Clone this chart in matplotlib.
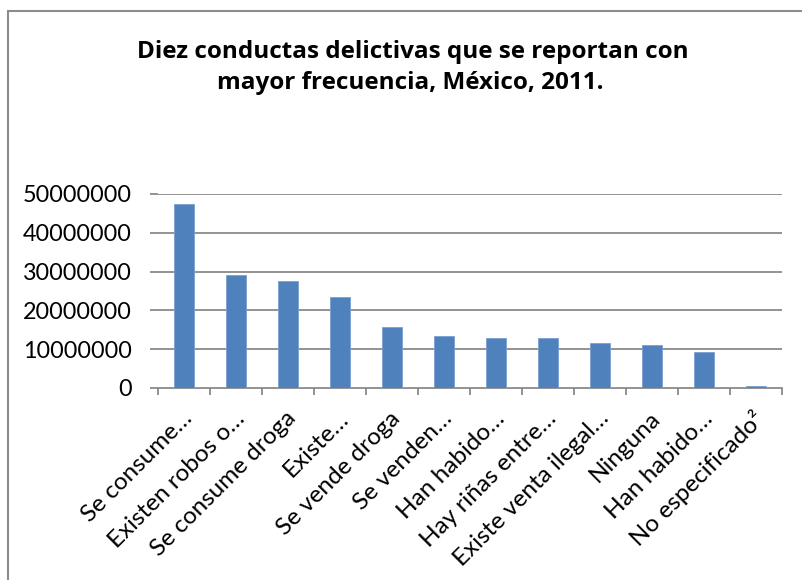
import matplotlib.pyplot as plt
import matplotlib.patches as mpatches
import matplotlib.transforms as mtrans
import numpy as np

# data (approximate)
categorias = ['Se consume…', 'Existen robos o…', 'Se consume droga', 'Existe…',
              'Se vende droga', 'Se venden…', 'Han habido…', 'Hay riñas entre…',
              'Existe venta ilegal…', 'Ninguna', 'Han habido…', 'No especificado²']
valores = [47350000, 29100000, 27500000, 23400000, 15600000, 13500000,
           13000000, 12800000, 11700000, 11000000, 9400000, 600000]
yticks = [0, 10000000, 20000000, 30000000, 40000000, 50000000]
titulo_1 = 'Diez conductas delictivas que se reportan con'
titulo_2 = 'mayor frecuencia, México, 2011.'

plt.rcParams['font.family'] = ['Lato', 'DejaVu Sans']

W, H = 803, 580
fig = plt.figure(figsize=(W / 100, H / 100), dpi=100)

# chart area border (only top and left edges show)
fig.patches.append(mpatches.Rectangle((8 / W, -0.1), 1.2, 1 - 11 / H + 0.1,
                                      transform=fig.transFigure, fill=False,
                                      edgecolor='#8c8c8c', lw=1.5))

ax = fig.add_axes([158 / W, 1 - 388 / H, (782 - 158) / W, (388 - 194) / H])
x = np.arange(len(valores))
ax.bar(x, valores, width=0.4, color='#4F81BD', edgecolor='#7a9fd0', lw=0.6, zorder=3)

ax.set_xlim(-0.5, len(valores) - 0.5)
ax.set_ylim(0, 50000000)
ax.set_yticks(yticks)
ax.set_yticklabels([str(v) for v in yticks], fontsize=16.8)
for v in yticks[1:]:
    ax.axhline(v, color='#8a8a8a', lw=1.3, zorder=1)

for s in ['top', 'right', 'left']:
    ax.spines[s].set_visible(False)
ax.spines['bottom'].set_color('#8a8a8a')
ax.spines['bottom'].set_linewidth(1.3)
ax.tick_params(axis='y', length=6, width=1.3, color='#8a8a8a', pad=13)

# category boundary ticks
ax.set_xticks(np.arange(len(valores) + 1) - 0.5, minor=True)
ax.tick_params(axis='x', which='minor', length=5, width=1.3, color='#8a8a8a', direction='out')
ax.set_xticks(x)
ax.tick_params(axis='x', which='major', length=0, pad=0)
ax.set_xticklabels(categorias, rotation=45, ha='right', va='center',
                   rotation_mode='anchor', fontsize=17.5)
off = mtrans.ScaledTranslation(5 / 100, -27 / 100, fig.dpi_scale_trans)
for lbl in ax.get_xticklabels():
    lbl.set_transform(lbl.get_transform() + off)

fig.text(413 / W, 1 - 58.5 / H, titulo_1, ha='center', va='baseline', fontsize=17.5,
         fontweight='bold', family='Open Sans')
fig.text(410 / W, 1 - 88.5 / H, titulo_2, ha='center', va='baseline', fontsize=17.5,
         fontweight='bold', family='Open Sans')

fig.savefig('out.png', dpi=100)
